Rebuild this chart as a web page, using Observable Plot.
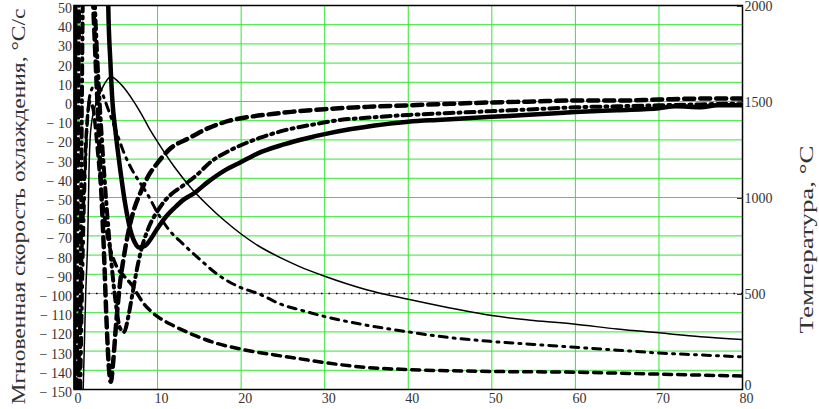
<!DOCTYPE html>
<html><head><meta charset="utf-8">
<script src="https://cdn.jsdelivr.net/npm/d3@7"></script>
<script src="https://cdn.jsdelivr.net/npm/@observablehq/plot@0.6"></script>
<style>body{margin:0;background:#fff}#chart svg{display:block}</style>
</head><body><div id="chart"></div>
<script>
// ---- tick labels ----
const xTicks = [0, 10, 20, 30, 40, 50, 60, 70, 80];
const leftTicks = [-150, -140, -130, -120, -110, -100, -90, -80, -70, -60, -50, -40, -30, -20, -10, 0, 10, 20, 30, 40, 50];
const rightTicks = [500, 1000, 1500, 2000];
const rightZero = [0];
const yLabel = "Мгновенная скорость охлаждения, °С/с";
const y2Label = "Температура, °С";
const isoTemp = [500];

// ---- cooling rate, °C/s (left axis) ----
const rateSolidT = [0, 0.35, 3.9, 4.1, 4.35, 4.6, 4.95, 5.55, 6.15, 6.75, 7.35, 7.8, 8.55, 9.2, 10, 11, 12, 13, 14.3, 16, 18, 20, 22, 25, 28, 30, 33, 36, 40, 44, 48, 52, 56, 60, 65, 70, 72, 75, 77, 80];
const rateSolidV = [-150, 160, 120, 50, 21, 0, -15, -36, -54, -67, -74, -76, -75, -71.5, -66, -60, -55.5, -51.5, -48, -42, -36, -31.5, -27, -22.5, -19, -17, -14.5, -12.5, -10.5, -9.5, -8.5, -7.5, -6.5, -5.5, -4.5, -3.5, -2.5, -3, -2, -2];

const rateDashT = [0.3, 0.8, 2.1, 2.4, 2.8, 3.2, 3.6, 3.9, 4.2, 4.4, 4.7, 5.0, 5.5, 6.0, 6.6, 7.2, 8, 9, 10, 11.4, 13.8, 16, 18.6, 21, 23.7, 26, 30, 35, 40, 45, 50, 55, 60, 65, 70, 75, 80];
const rateDashV = [-150, 110, 70, 40, 0, -40, -80, -115, -140, -146, -135, -118, -95, -80, -66, -56, -47, -38, -32, -25, -19, -14, -10, -8, -6.5, -5.4, -4, -2.8, -2, -1.2, -0.5, 0, 0.5, 0.5, 1, 1.5, 1.5];

const rateDashDotT = [0.7, 1.3, 2.3, 2.6, 3.0, 3.5, 4.0, 4.5, 5.0, 5.5, 6.0, 6.5, 7.0, 7.5, 8.0, 9, 10, 11, 12, 13, 14.6, 16.5, 18.6, 22.2, 25.4, 29, 32, 35, 40, 45, 50, 55, 60, 65, 70, 75, 80];
const rateDashDotV = [-150, 110, 70, 40, 5, -30, -60, -85, -105, -118, -120, -112, -100, -88, -78, -65, -57, -51, -47, -44, -38.6, -31, -25.6, -19, -14.8, -11.7, -9.5, -8.5, -7, -6, -5, -4, -3, -2.5, -2, -1.5, -1];

// ---- temperature, °C (right axis) ----
const tempSolidT = [1.1, 1.4, 1.65, 1.8, 2.0, 2.5, 3, 3.5, 4, 4.4, 5, 6, 7, 8, 9, 10, 12, 14, 16, 18, 20, 22, 25, 27, 30, 35, 40, 45, 50, 55, 60, 65, 70, 75, 80];
const tempSolidV = [0, 500, 800, 1150, 1350, 1470, 1530, 1580, 1615, 1630, 1615, 1570, 1510, 1440, 1360, 1290, 1160, 1050, 960, 880, 810, 750, 680, 640, 590, 520, 470, 425, 385, 360, 340, 315, 295, 275, 260];

const tempDashT = [0.5, 1.0, 1.5, 1.9, 2.3, 2.7, 3.0, 3.5, 4.0, 5.0, 6.0, 7.0, 7.7, 8.3, 9.15, 10, 12, 14, 16.8, 20, 24, 27, 30, 35, 40, 50, 60, 70, 80];
const tempDashV = [0, 800, 1350, 1500, 1460, 1300, 1150, 950, 800, 650, 590, 540, 490, 450, 410, 380, 330, 290, 244, 210, 180, 160, 140, 115, 104, 94, 90, 80, 70];

const tempDashDotT = [0.8, 1.2, 1.6, 2.0, 2.6, 3.0, 3.5, 4.0, 4.5, 5.0, 6, 7, 8, 8.75, 10, 11.4, 13, 15, 17, 20, 22, 25, 27, 30, 35, 40, 45, 50, 55, 60, 65, 70, 75, 80];
const tempDashDotV = [0, 900, 1400, 1550, 1590, 1580, 1530, 1470, 1410, 1350, 1230, 1140, 1070, 1020, 920, 830, 760, 680, 605, 530, 500, 440, 415, 380, 335, 300, 270, 250, 235, 220, 205, 190, 180, 170];

// right axis 0..2000 °C shares the frame with left axis -150..50 °C/s
const toLeft = T => T / 10 - 150;
const toTemp = v => String(Math.round((v + 150) * 10));

const rows = (ts, vs) => ts.map((t, i) => ({t, v: vs[i]}));
const trows = (ts, vs) => ts.map((t, i) => ({t, v: toLeft(vs[i])}));

const minus = d => d < 0 ? "\u2212 " + Math.abs(d) : String(d);
const textColor = "#333";
const grid = "#33e633";
const serif = "'Liberation Serif', 'Times New Roman', serif";

const lineOpts = (extra) => Object.assign({x: "t", y: "v", stroke: "black", curve: "monotone-x", clip: true, strokeLinejoin: "round"}, extra);

const chart = Plot.plot({
  width: 819,
  height: 409,
  marginLeft: 73.5,
  marginRight: 77,
  marginTop: 5,
  marginBottom: 20,
  style: {fontFamily: serif, fontSize: "14px", color: textColor, background: "#fff"},
  x: {domain: [0, 80]},
  y: {domain: [-150, 50]},
  marks: [
    Plot.gridX(xTicks.slice(1, -1), {stroke: grid, strokeOpacity: 1, strokeWidth: 1}),
    Plot.gridY(leftTicks.slice(1, -1), {stroke: grid, strokeOpacity: 1, strokeWidth: 1}),
    Plot.ruleY(isoTemp, {y: d => toLeft(d), stroke: "black", strokeWidth: 1.6, strokeDasharray: "1.5,6"}),
    // temperatures
    Plot.line(trows(tempSolidT, tempSolidV), lineOpts({strokeWidth: 1.5})),
    Plot.line(trows(tempDashT, tempDashV), lineOpts({strokeWidth: 3.5, strokeDasharray: "8,6"})),
    Plot.line(trows(tempDashDotT, tempDashDotV), lineOpts({strokeWidth: 3, strokeDasharray: "8,6,2,6"})),
    // cooling rates
    Plot.line(rows(rateDashDotT, rateDashDotV), lineOpts({strokeWidth: 4, strokeDasharray: "9,5,2,5"})),
    Plot.line(rows(rateDashT, rateDashV), lineOpts({strokeWidth: 4.5, strokeDasharray: "10,6"})),
    Plot.line(rows(rateSolidT, rateSolidV), lineOpts({strokeWidth: 4.5})),
    Plot.frame({stroke: "black", strokeWidth: 1.5}),
    Plot.axisY(leftTicks, {anchor: "left", tickSize: 0, tickPadding: 2, dy: 3, tickFormat: minus, label: null, fill: textColor, fontFamily: serif, fontSize: 14}),
    Plot.axisY(rightTicks.map(toLeft), {anchor: "right", tickSize: -6, tickPadding: 8, dy: 1, tickFormat: toTemp, label: null, fill: textColor, fontFamily: serif, fontSize: 14}),
    Plot.axisY(rightZero.map(toLeft), {anchor: "right", tickSize: 0, tickPadding: 2, dy: -4, tickFormat: toTemp, label: null, fill: textColor, fontFamily: serif, fontSize: 14}),
    Plot.axisX(xTicks, {anchor: "bottom", tickSize: 0, tickPadding: 4, dx: 4, tickFormat: d => String(d), label: null, fill: textColor, fontFamily: serif, fontSize: 14}),
    Plot.text([yLabel], {frameAnchor: "left", text: d => d, rotate: -90, textAnchor: "middle", dx: -55, dy: 9, fontSize: 19, fontFamily: serif, fill: textColor}),
    Plot.text([y2Label], {frameAnchor: "right", text: d => d, rotate: -90, textAnchor: "middle", dx: 64, dy: 42, fontSize: 19, fontFamily: serif, fill: textColor})
  ]
});
// the reference's rotated titles are drawn stretched along their length
const titleLengths = [396, 188];
d3.select(chart).selectAll('g[aria-label="text"] text').each(function(d, i) {
  if (titleLengths[i]) d3.select(this).attr("textLength", titleLengths[i]).attr("lengthAdjust", "spacingAndGlyphs");
});
document.getElementById("chart").appendChild(chart);
</script>
</body></html>
